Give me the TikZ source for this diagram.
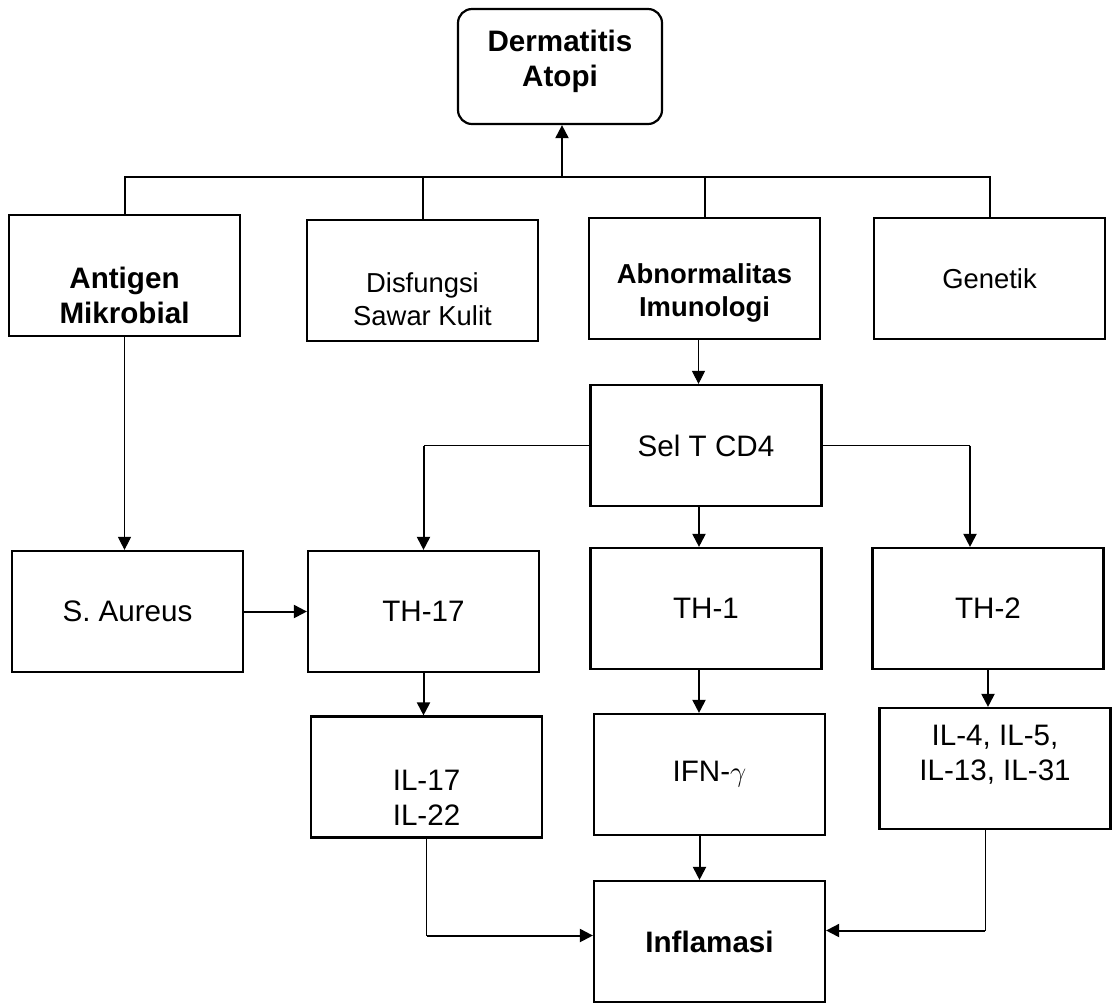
\documentclass[tikz,border=0pt]{standalone}
\usepackage{fontspec}
\setsansfont{Liberation Sans}
\usetikzlibrary{arrows.meta}

\begin{document}
\begin{tikzpicture}[
  x=0.5pt, y=-0.5pt,
  box/.style={draw, line width=1.1pt, minimum width=115.5pt, minimum height=60.5pt,
    inner sep=2pt, align=center, font=\sffamily\fontsize{14.8}{17.5}\selectfont},
  smallbox/.style={box, font=\sffamily\fontsize{13.7}{16.5}\selectfont},
  push down/.style={execute at begin node={\rule{0pt}{#1}}},
  push up/.style={execute at end node={\rule[-#1]{0pt}{0pt}}},
  link/.style={line width=1pt},
  thinlink/.style={line width=0.5pt},
  arrow/.style={link, -{Triangle[length=6.5pt,width=6.5pt]}},
  thinarrow/.style={thinlink, -{Triangle[length=6.5pt,width=6.5pt]}}
]
  \path[fill=white] (0,0) rectangle (1112,1003);

  % top
  \node[box, rounded corners=7pt, minimum width=102pt, minimum height=57.5pt, push up=8.6pt]
    (derm) at (560,66.5) {\bfseries Dermatitis\\\bfseries Atopi};

  % causes
  \node[box, push down=48pt] (antigen) at (124.5,275.5) {\bfseries Antigen\\\bfseries Mikrobial};
  \node[smallbox, push down=45pt] (disf) at (422.5,280.5) {Disfungsi\\Sawar Kulit};
  \node[smallbox, push down=40.5pt] (abn) at (704.5,278.5) {\bfseries Abnormalitas\\\bfseries Imunologi};
  \node[smallbox] (gen) at (989.5,278.5) {Genetik};

  % cells
  \node[box] (selt) at (706,445.5) {Sel T CD4};
  \node[box] (saur) at (127.5,611.5) {S. Aureus};
  \node[box] (th17) at (423.5,611.5) {TH-17};
  \node[box] (th1) at (706,608.5) {TH-1};
  \node[box] (th2) at (988,608.5) {TH-2};

  % cytokines
  \node[box, push down=48pt] (il17) at (426.5,777) {IL-17\\IL-22};
  \node[box] (ifn) at (709.5,774.5) {IFN-$\gamma$};
  \node[box, push up=16pt] (il4) at (995,768.5) {IL-4, IL-5,\\IL-13, IL-31};
  \node[box] (infl) at (709.5,941.5) {\bfseries Inflamasi};

  \coordinate (bus) at (562,177);
  \coordinate (th2in) at ([xshift=-9pt]th2.north);
  \coordinate (il4out) at ([xshift=-5pt]il4.south);
  \coordinate (inL) at ([yshift=3pt]infl.west);
  \coordinate (inR) at ([yshift=5.5pt]infl.east);

  \draw[arrow] (bus) -- (bus |- derm.south);
  \draw[link] (antigen.north) |- (bus) -| (gen.north);
  \draw[link] (disf.north) -- (disf.north |- bus);
  \draw[link] (abn.north) -- (abn.north |- bus);

  \draw[thinarrow] (antigen.south) -- (antigen.south |- saur.north);
  \draw[thinarrow] ([xshift=-3pt]abn.south) -- ([xshift=-3pt]abn.south |- selt.north);

  \draw[thinlink] (selt.west) -- (selt.west -| th17.north);
  \draw[arrow] (selt.west -| th17.north) -- (th17.north);
  \draw[thinlink] (selt.east) -- (selt.east -| th2in);
  \draw[arrow] (selt.east -| th2in) -- (th2in);
  \draw[arrow] ([xshift=-3.5pt]selt.south) -- ([xshift=-3.5pt]selt.south |- th1.north);

  \draw[arrow] (saur.east) -- (th17.west);
  \draw[arrow] (th17.south) -- (th17.south |- il17.north);
  \draw[arrow] ([xshift=-3.5pt]th1.south) -- ([xshift=-3.5pt]th1.south |- ifn.north);
  \draw[arrow] (th2.south) -- (th2.south |- il4.north);
  \draw[arrow] ([xshift=-5pt]ifn.south) -- ([xshift=-5pt]ifn.south |- infl.north);

  \draw[thinlink] (il17.south) -- (il17.south |- inL);
  \draw[arrow] (il17.south |- inL) -- (inL);
  \draw[thinlink] (il4out) -- (il4out |- inR);
  \draw[arrow] (il4out |- inR) -- (inR);
\end{tikzpicture}
\end{document}
